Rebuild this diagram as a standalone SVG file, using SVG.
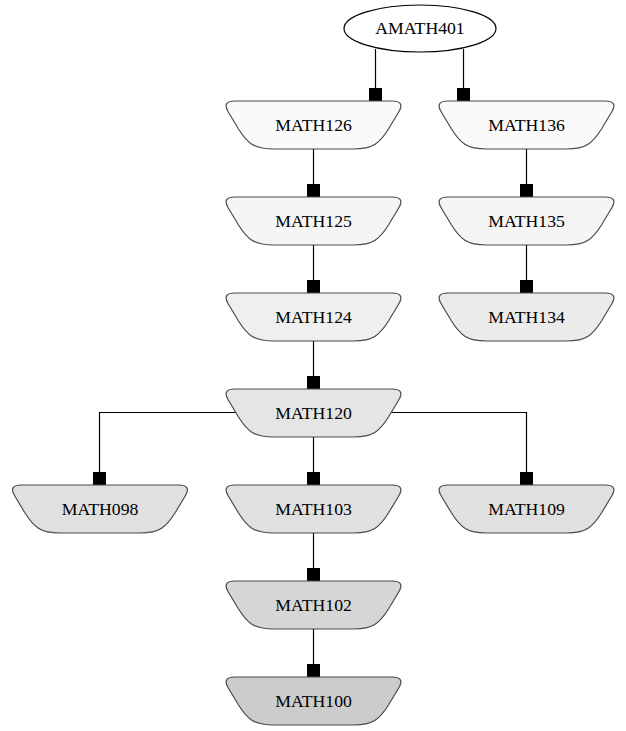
<svg xmlns="http://www.w3.org/2000/svg" xmlns:xlink="http://www.w3.org/1999/xlink" width="626" height="731" viewBox="0 0 626 731">
  <style>
    .bg { fill: #ffffff; }
    .shape { stroke: #4a4a4a; stroke-width: 1.2; }
    .oval { fill: #ffffff; stroke: #000000; stroke-width: 1.2; }
    .label { font-size: 17.7px; fill: #000000; text-anchor: middle; }
    .edge { fill: none; stroke: #000000; stroke-width: 1.2; marker-end: url(#box); }
  </style>
  <defs>
    <!-- rounded inverted trapezium, centred on the origin -->
    <path id="tz" d="M -79,-24 L 79,-24 C 86,-24 90,-21 85.5,-13.5 L 75,4 C 66,18 60,24 40,24 L -40,24 C -60,24 -66,18 -75,4 L -85.5,-13.5 C -90,-21 -86,-24 -79,-24 Z"/>
    <!-- square arrowhead -->
    <marker id="box" markerUnits="userSpaceOnUse" viewBox="0 0 13 13" refX="13" refY="6.5" markerWidth="13" markerHeight="13" orient="auto">
      <rect x="0" y="0" width="13" height="13" fill="#000000"/>
    </marker>
  </defs>
  <rect class="bg" x="0" y="0" width="626" height="731"/>

  <g id="connectors">
    <path class="edge" d="M375.5,49 V101"/>
    <path class="edge" d="M463.5,49 V101"/>
    <path class="edge" d="M313.5,149 V197"/>
    <path class="edge" d="M313.5,245 V293"/>
    <path class="edge" d="M313.5,341 V389"/>
    <path class="edge" d="M237,412.5 H99.5 V485"/>
    <path class="edge" d="M313.5,437 V485"/>
    <path class="edge" d="M390,412.5 H526.5 V485"/>
    <path class="edge" d="M313.5,533 V581"/>
    <path class="edge" d="M313.5,629 V677"/>
    <path class="edge" d="M526.5,149 V197"/>
    <path class="edge" d="M526.5,245 V293"/>
  </g>

  <g font-family="'Liberation Serif', 'Times New Roman', 'DejaVu Serif', serif">
    <g id="AMATH401">
      <ellipse class="oval" cx="420" cy="28.5" rx="76" ry="23.5"/>
      <text class="label" x="420" y="34">AMATH401</text>
    </g>
    <g id="MATH126">
      <use xlink:href="#tz" class="shape" fill="#fafafa" transform="translate(313.5,125)"/>
      <text class="label" x="313.5" y="130.5">MATH126</text>
    </g>
    <g id="MATH136">
      <use xlink:href="#tz" class="shape" fill="#fafafa" transform="translate(526.5,125)"/>
      <text class="label" x="526.5" y="130.5">MATH136</text>
    </g>
    <g id="MATH125">
      <use xlink:href="#tz" class="shape" fill="#f5f5f5" transform="translate(313.5,221)"/>
      <text class="label" x="313.5" y="226.5">MATH125</text>
    </g>
    <g id="MATH135">
      <use xlink:href="#tz" class="shape" fill="#f5f5f5" transform="translate(526.5,221)"/>
      <text class="label" x="526.5" y="226.5">MATH135</text>
    </g>
    <g id="MATH124">
      <use xlink:href="#tz" class="shape" fill="#efefef" transform="translate(313.5,317)"/>
      <text class="label" x="313.5" y="322.5">MATH124</text>
    </g>
    <g id="MATH134">
      <use xlink:href="#tz" class="shape" fill="#ebebeb" transform="translate(526.5,317)"/>
      <text class="label" x="526.5" y="322.5">MATH134</text>
    </g>
    <g id="MATH120">
      <use xlink:href="#tz" class="shape" fill="#e5e5e5" transform="translate(313.5,413)"/>
      <text class="label" x="313.5" y="418.5">MATH120</text>
    </g>
    <g id="MATH098">
      <use xlink:href="#tz" class="shape" fill="#e0e0e0" transform="translate(100,509)"/>
      <text class="label" x="100" y="514.5">MATH098</text>
    </g>
    <g id="MATH103">
      <use xlink:href="#tz" class="shape" fill="#e0e0e0" transform="translate(313.5,509)"/>
      <text class="label" x="313.5" y="514.5">MATH103</text>
    </g>
    <g id="MATH109">
      <use xlink:href="#tz" class="shape" fill="#e0e0e0" transform="translate(526.5,509)"/>
      <text class="label" x="526.5" y="514.5">MATH109</text>
    </g>
    <g id="MATH102">
      <use xlink:href="#tz" class="shape" fill="#d6d6d6" transform="translate(313.5,605)"/>
      <text class="label" x="313.5" y="610.5">MATH102</text>
    </g>
    <g id="MATH100">
      <use xlink:href="#tz" class="shape" fill="#cccccc" transform="translate(313.5,701)"/>
      <text class="label" x="313.5" y="706.5">MATH100</text>
    </g>
  </g>
</svg>
